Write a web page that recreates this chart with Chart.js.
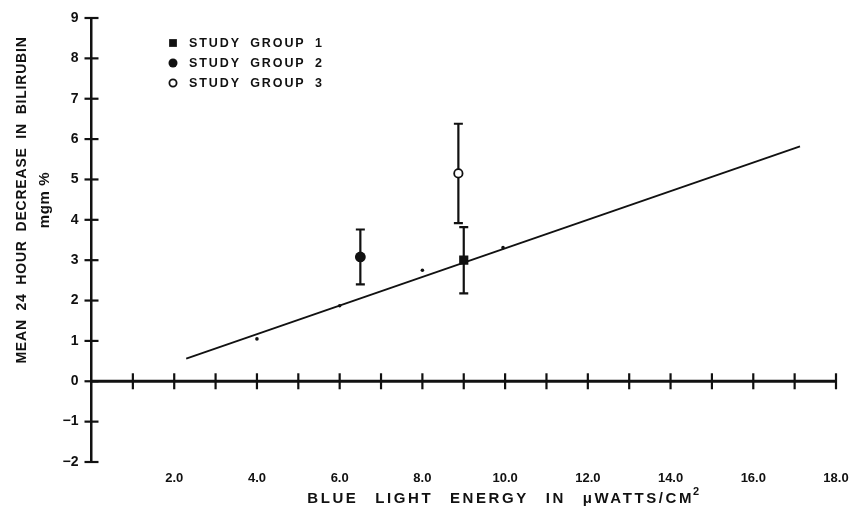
<!DOCTYPE html>
<html>
<head>
<meta charset="utf-8">
<script src="https://cdn.jsdelivr.net/npm/chart.js@4.4.1/dist/chart.umd.min.js"></script>
<style>
  html, body { margin: 0; padding: 0; background: #fff; }
</style>
</head>
<body>
<canvas id="chart" width="865" height="513"></canvas>
<script>
// study group means with their error bars
const groupLabels = ['STUDY GROUP 1', 'STUDY GROUP 2', 'STUDY GROUP 3'];
const groupX = [9.0, 6.5, 8.87];
const groupY = [3.0, 3.08, 5.15];
const groupErr = [0.82, 0.68, 1.23];

// small dots along the fitted line
const dotX = [4.0, 6.0, 8.0, 9.95];
const dotY = [1.05, 1.87, 2.75, 3.31];

// fitted line end points
const fitX = [2.29, 17.13];
const fitY = [0.56, 5.82];

const xMin = 0, xMax = 18;
const yMin = -2, yMax = 9;
const xLabelValues = [2, 4, 6, 8, 10, 12, 14, 16, 18];

const yTitle = ['MEAN 24 HOUR DECREASE IN BILIRUBIN', 'mgm %'];
const xTitle = ['BLUE LIGHT ENERGY IN \u03bcWATTS/CM', '2'];

const INK = '#111';
const FONT = "'Liberation Sans', Arial, sans-serif";

const groupStyles = [
  { pointStyle: 'rect', pointRadius: 6.5, backgroundColor: INK, borderWidth: 0, legendRadius: 5.5 },
  { pointStyle: 'circle', pointRadius: 5.4, backgroundColor: INK, borderWidth: 0, legendRadius: 4.5 },
  { pointStyle: 'circle', pointRadius: 4.2, backgroundColor: '#fff', borderWidth: 1.8, legendRadius: 3.6 }
];

const datasets = [
  {
    label: 'fit',
    data: fitX.map((x, i) => ({ x, y: fitY[i] })),
    showLine: true,
    borderColor: INK,
    borderWidth: 1.8,
    pointRadius: 0
  },
  {
    label: 'points',
    data: dotX.map((x, i) => ({ x, y: dotY[i] })),
    pointRadius: 1.8,
    backgroundColor: INK,
    borderWidth: 0
  }
];
groupLabels.forEach((label, i) => {
  const s = groupStyles[i];
  datasets.push({
    label,
    data: [{ x: groupX[i], y: groupY[i] }],
    err: groupErr[i],
    inLegend: true,
    legendRadius: s.legendRadius,
    pointStyle: s.pointStyle,
    pointRadius: s.pointRadius,
    backgroundColor: s.backgroundColor,
    borderColor: INK,
    borderWidth: s.borderWidth
  });
});

const axesPlugin = {
  id: 'axesAndBars',
  beforeDatasetsDraw(chart) {
    const { ctx } = chart;
    const xs = chart.scales.x, ys = chart.scales.y;
    const y0 = ys.getPixelForValue(0);
    const x0 = xs.getPixelForValue(xMin);
    ctx.save();
    ctx.strokeStyle = INK;
    ctx.lineCap = 'butt';

    // x axis line sits at y = 0
    ctx.lineWidth = 3;
    ctx.beginPath();
    ctx.moveTo(x0, y0);
    ctx.lineTo(xs.getPixelForValue(xMax), y0);
    ctx.stroke();

    // crossing tick marks
    ctx.lineWidth = 2.2;
    xs.ticks.forEach(t => {
      if (t.value <= xMin) return;
      const px = xs.getPixelForValue(t.value);
      ctx.beginPath();
      ctx.moveTo(px, y0 - 8);
      ctx.lineTo(px, y0 + 8);
      ctx.stroke();
    });
    ys.ticks.forEach(t => {
      const py = ys.getPixelForValue(t.value);
      ctx.beginPath();
      ctx.moveTo(x0 - 7, py);
      ctx.lineTo(x0 + 7, py);
      ctx.stroke();
    });

    // error bars
    chart.data.datasets.forEach(ds => {
      if (ds.err === undefined) return;
      ds.data.forEach(p => {
        const px = xs.getPixelForValue(p.x);
        const top = ys.getPixelForValue(p.y + ds.err);
        const bot = ys.getPixelForValue(p.y - ds.err);
        ctx.lineWidth = 2.2;
        ctx.beginPath();
        ctx.moveTo(px, top);
        ctx.lineTo(px, bot);
        ctx.moveTo(px - 4.5, top);
        ctx.lineTo(px + 4.5, top);
        ctx.moveTo(px - 4.5, bot);
        ctx.lineTo(px + 4.5, bot);
        ctx.stroke();
      });
    });
    ctx.restore();
  },
  afterDraw(chart) {
    const { ctx } = chart;
    ctx.save();
    ctx.fillStyle = INK;
    ctx.textAlign = 'center';
    ctx.textBaseline = 'middle';

    // y axis title, two lines
    ctx.save();
    ctx.translate(22, 200);
    ctx.rotate(-Math.PI / 2);
    ctx.font = 'bold 14px ' + FONT;
    ctx.letterSpacing = '0.8px';
    ctx.wordSpacing = '4px';
    ctx.fillText(yTitle[0], 0, 0);
    ctx.font = 'bold 15px ' + FONT;
    ctx.letterSpacing = '0.6px';
    ctx.wordSpacing = '0px';
    ctx.fillText(yTitle[1], 0, 23);
    ctx.restore();

    // x axis title with superscript
    ctx.font = 'bold 15px ' + FONT;
    ctx.letterSpacing = '2.6px';
    ctx.wordSpacing = '10px';
    ctx.textAlign = 'left';
    const mainW = ctx.measureText(xTitle[0]).width;
    ctx.font = 'bold 11px ' + FONT;
    const supW = ctx.measureText(xTitle[1]).width;
    const startX = 505 - (mainW + supW) / 2;
    ctx.font = 'bold 15px ' + FONT;
    ctx.fillText(xTitle[0], startX, 499);
    ctx.font = 'bold 11px ' + FONT;
    ctx.fillText(xTitle[1], startX + mainW - 1, 492);

    // legend
    ctx.font = 'bold 12.5px ' + FONT;
    ctx.letterSpacing = '1.9px';
    ctx.wordSpacing = '4px';
    ctx.textAlign = 'left';
    let row = 0;
    chart.data.datasets.forEach(ds => {
      if (!ds.inLegend) return;
      const ly = 43 + row * 20;
      ctx.fillStyle = ds.backgroundColor;
      ctx.strokeStyle = INK;
      ctx.lineWidth = ds.borderWidth;
      Chart.helpers.drawPoint(ctx, {
        pointStyle: ds.pointStyle,
        radius: ds.legendRadius,
        rotation: 0,
        borderWidth: ds.borderWidth
      }, 173, ly);
      ctx.fillStyle = INK;
      ctx.fillText(ds.label, 189, ly + 1);
      row++;
    });
    ctx.restore();
  }
};

new Chart(document.getElementById('chart'), {
  type: 'scatter',
  data: { datasets },
  options: {
    responsive: false,
    animation: false,
    devicePixelRatio: 1,
    layout: { padding: { left: 0, top: 18, right: 29, bottom: 0 } },
    plugins: {
      legend: { display: false },
      tooltip: { enabled: false }
    },
    scales: {
      x: {
        type: 'linear',
        position: 'bottom',
        min: xMin,
        max: xMax,
        grid: { display: false, drawTicks: false },
        border: { display: false },
        ticks: {
          stepSize: 1,
          autoSkip: false,
          maxRotation: 0,
          padding: 9,
          color: INK,
          font: { family: FONT, size: 13, weight: 'bold' },
          callback: v => xLabelValues.includes(v) ? v.toFixed(1) : ''
        },
        afterFit: s => { s.height = 51; s.paddingLeft = 0; s.paddingRight = 0; }
      },
      y: {
        type: 'linear',
        min: yMin,
        max: yMax,
        grid: { display: true, drawOnChartArea: false, drawTicks: false },
        border: { display: true, color: INK, width: 2.5 },
        ticks: {
          stepSize: 1,
          padding: 13,
          color: INK,
          font: { family: FONT, size: 14, weight: 'bold' },
          callback: v => v < 0 ? '\u2212' + Math.abs(v) : String(v)
        },
        afterFit: s => { s.width = 91.5; s.paddingTop = 0; s.paddingBottom = 0; }
      }
    }
  },
  plugins: [axesPlugin]
});
</script>
</body>
</html>
